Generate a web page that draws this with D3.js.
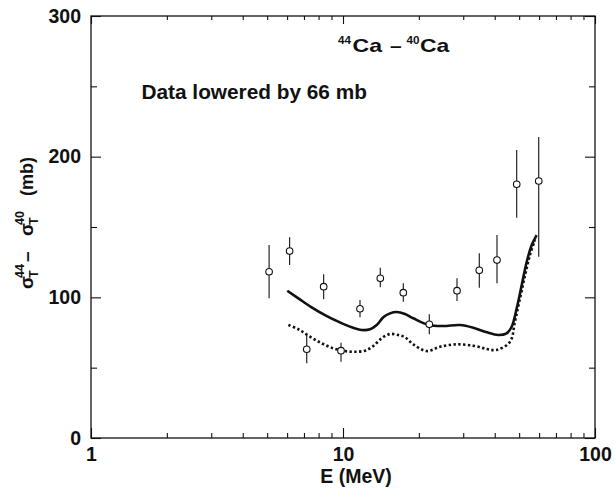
<!DOCTYPE html>
<html><head><meta charset="utf-8">
<script src="https://cdn.jsdelivr.net/npm/d3@7"></script>
<style>
body{margin:0;background:#fff}
svg{display:block}
text{font-family:"Liberation Sans",Arial,Helvetica,sans-serif;font-weight:bold;fill:#111}
</style>
</head><body>
<svg id="c" width="615" height="491"></svg>
<script>
// ---- data ----
const xMajorTicks = [1, 10, 100];
const xTickLabels = ["1", "10", "100"];
const xMinorTicks = [2, 3, 4, 5, 6, 7, 8, 9, 20, 30, 40, 50, 60, 70, 80, 90];
const yMajorTicks = [0, 100, 200, 300];
const yMinorTicks = [50, 150, 250];

const dataE       = [5.09, 6.14, 7.18, 8.38, 9.82, 11.68, 14.06, 17.35, 22.0, 28.34, 34.74, 40.84, 48.9, 59.8];
const dataSigma   = [118.2, 132.9, 63.1, 107.6, 62.1, 91.9, 113.5, 103.3, 80.8, 104.7, 119.2, 126.5, 180.4, 182.7];
const dataErrLow  = [99.3, 123.0, 53.1, 98.6, 54.2, 85.8, 107.1, 96.9, 73.7, 97.4, 106.8, 110.0, 156.6, 128.9];
const dataErrHigh = [137.2, 142.7, 73.2, 116.4, 67.7, 98.1, 121.1, 110.0, 87.9, 113.5, 131.3, 144.3, 204.7, 214.0];

const solidE     = [6.01, 6.65, 7.51, 8.48, 9.58, 10.83, 11.87, 12.80, 13.61, 14.45, 15.37, 16.34, 17.62, 19.01, 22.0, 25.0, 29.1, 32.9, 37.2, 41.3, 44.6, 46.7, 48.9, 51.2, 53.6, 56.1, 58.7];
const solidSigma = [104.7, 99.3, 92.9, 87.4, 82.7, 78.7, 76.8, 77.3, 80.3, 85.8, 88.6, 89.6, 88.1, 85.1, 80.3, 79.6, 80.3, 78.4, 75.1, 73.2, 74.4, 79.1, 92.2, 108.8, 125.3, 137.2, 144.3];

const dottedE     = [6.07, 6.65, 7.40, 8.23, 9.15, 10.18, 11.16, 12.23, 13.19, 14.24, 15.37, 16.58, 17.62, 19.01, 21.48, 24.26, 28.26, 32.9, 37.2, 40.7, 46.0, 48.1, 50.4, 52.8, 55.2, 57.8];
const dottedSigma = [80.3, 77.3, 72.0, 67.3, 63.8, 61.8, 61.3, 62.1, 65.4, 70.9, 73.9, 73.2, 71.6, 66.6, 61.8, 64.9, 66.6, 65.6, 63.3, 62.6, 68.5, 82.7, 99.3, 115.9, 130.1, 140.8];

// ---- layout ----
const svg = d3.select("#c");
const L = 91, R = 595, T = 16, B = 438;
const x = d3.scaleLog().domain([1, 100]).range([L, R]);
const y = d3.scaleLinear().domain([0, 300]).range([B, T]);

svg.append("rect").attr("width", 615).attr("height", 491).attr("fill", "#fff");

function styleAxis(g, fs) {
  g.select(".domain").remove();
  g.selectAll("line").attr("stroke", "#111").attr("stroke-width", 1.1);
  g.selectAll("text").attr("font-size", fs).attr("font-family", '"Liberation Sans",Arial,sans-serif').attr("font-weight", "bold").attr("fill", "#111");
}
const xb = svg.append("g").attr("transform", `translate(0,${B})`)
  .call(d3.axisBottom(x).tickValues(xMajorTicks).tickFormat((d, i) => xTickLabels[i]).tickSize(-10).tickPadding(9));
styleAxis(xb, 19.5);
const xbm = svg.append("g").attr("transform", `translate(0,${B})`)
  .call(d3.axisBottom(x).tickValues(xMinorTicks).tickFormat("").tickSize(-5));
styleAxis(xbm, 19);
const xt = svg.append("g").attr("transform", `translate(0,${T})`)
  .call(d3.axisTop(x).tickValues(xMajorTicks).tickFormat("").tickSize(-8));
styleAxis(xt, 19);
const xtm = svg.append("g").attr("transform", `translate(0,${T})`)
  .call(d3.axisTop(x).tickValues(xMinorTicks).tickFormat("").tickSize(-4));
styleAxis(xtm, 19);

const yl = svg.append("g").attr("transform", `translate(${L},0)`)
  .call(d3.axisLeft(y).tickValues(yMajorTicks).tickFormat(d3.format("d")).tickSize(-10).tickPadding(10));
styleAxis(yl, 19.5);
const ylm = svg.append("g").attr("transform", `translate(${L},0)`)
  .call(d3.axisLeft(y).tickValues(yMinorTicks).tickFormat("").tickSize(-6));
styleAxis(ylm, 19);
const yr = svg.append("g").attr("transform", `translate(${R},0)`)
  .call(d3.axisRight(y).tickValues(yMajorTicks).tickFormat("").tickSize(-10));
styleAxis(yr, 19);
const yrm = svg.append("g").attr("transform", `translate(${R},0)`)
  .call(d3.axisRight(y).tickValues(yMinorTicks).tickFormat("").tickSize(-6));
styleAxis(yrm, 19);

svg.append("rect").attr("x", L).attr("y", T).attr("width", R - L).attr("height", B - T)
  .attr("fill", "none").attr("stroke", "#111").attr("stroke-width", 1.3);

// curves
const line = d3.line().x(d => x(d[0])).y(d => y(d[1])).curve(d3.curveCatmullRom.alpha(0.5));
svg.append("path").datum(solidE.map((e, i) => [e, solidSigma[i]]))
  .attr("d", line).attr("fill", "none").attr("stroke", "#111").attr("stroke-width", 2.6);
svg.append("path").datum(dottedE.map((e, i) => [e, dottedSigma[i]]))
  .attr("d", line).attr("fill", "none").attr("stroke", "#111").attr("stroke-width", 2.6)
  .attr("stroke-dasharray", "2.4,2.4");

// data points with error bars
const pts = dataE.map((e, i) => ({e, s: dataSigma[i], lo: dataErrLow[i], hi: dataErrHigh[i]}));
const pg = svg.append("g");
pg.selectAll("line.err").data(pts).join("line").attr("class", "err")
  .attr("x1", d => x(d.e)).attr("x2", d => x(d.e))
  .attr("y1", d => y(d.lo)).attr("y2", d => y(d.hi))
  .attr("stroke", "#111").attr("stroke-width", 1.1);
pg.selectAll("circle").data(pts).join("circle")
  .attr("cx", d => x(d.e)).attr("cy", d => y(d.s)).attr("r", 3.3)
  .attr("fill", "#fff").attr("stroke", "#111").attr("stroke-width", 1.1);

// title: 44Ca – 40Ca
function piece(txt, px, py, fs, len) {
  const t = svg.append("text").attr("x", px).attr("y", py).attr("font-size", fs).text(txt);
  if (len) t.attr("textLength", len).attr("lengthAdjust", "spacingAndGlyphs");
  return t;
}
piece("44", 338, 43.5, 11, 13);
piece("Ca", 352.5, 51.7, 18.6, 29.5);
piece("–", 390, 51.7, 18.6, 11.7);
piece("40", 406.5, 43.5, 11, 13);
piece("Ca", 420, 51.7, 18.6, 29.3);

svg.append("text").attr("x", 141.5).attr("y", 99.3).attr("font-size", 20.8).text("Data lowered by 66 mb");

// axis titles
svg.append("text").attr("x", 356).attr("y", 483).attr("font-size", 19.5).attr("text-anchor", "middle").text("E (MeV)");

const yg = svg.append("g").attr("transform", "translate(33,289) rotate(-90)");
function ypiece(txt, px, py, fs) {
  return yg.append("text").attr("x", px).attr("y", py).attr("font-size", fs).text(txt);
}
// along-axis positions (rotated frame)
ypiece("σ", 0, 0, 19);
ypiece("T", 11, 5, 12.5);
ypiece("44", 11, -9, 12.5);
ypiece("–", 27, 0, 19);
ypiece("σ", 53, 0, 19);
ypiece("T", 64, 5, 12.5);
ypiece("40", 64, -9, 12.5);
ypiece("(mb)", 93, 0, 18);
</script>
</body></html>
